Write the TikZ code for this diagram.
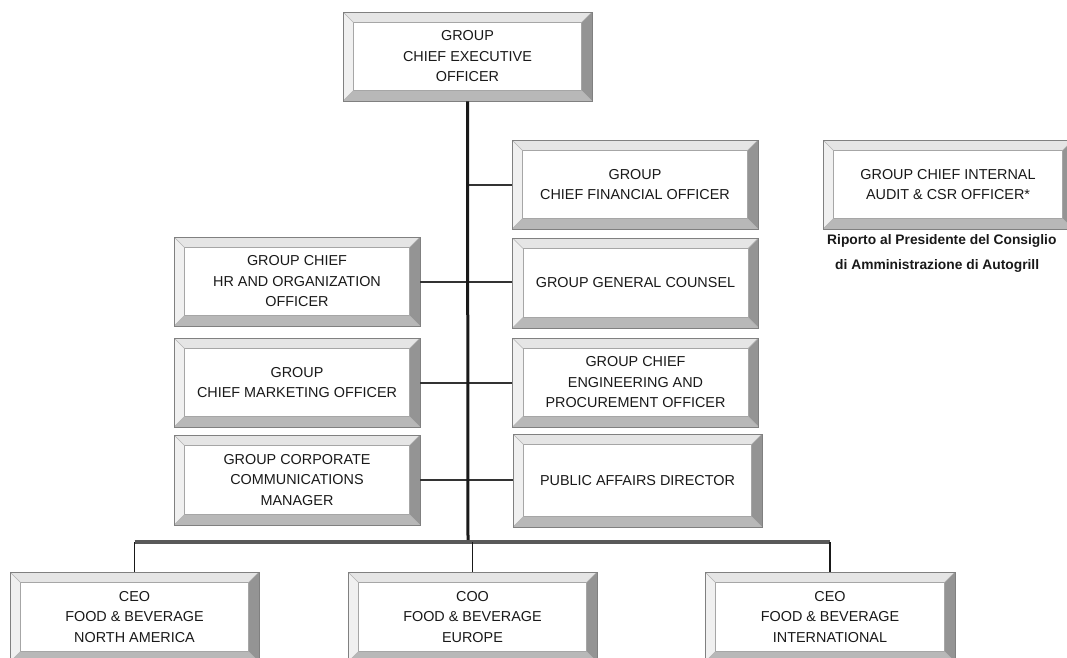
\documentclass[tikz,border=0pt]{standalone}
\usepackage{fontspec}
\setmainfont{Liberation Sans}
\usepackage{tikz}

\newcommand\boxfont{\fontsize{14.4}{20.5}\selectfont}
\newcommand\notefont{\fontsize{13.8}{15}\selectfont\bfseries}
\def\bev{10.5pt}

\tikzset{
  bevel/.style={draw=black!50, line width=.8pt, fill=white, align=center,
    inner sep=0pt, font=\boxfont, text=black!90,
    minimum width=246pt, minimum height=89pt,
    path picture={
      \coordinate (nw) at (path picture bounding box.north west);
      \coordinate (ne) at (path picture bounding box.north east);
      \coordinate (sw) at (path picture bounding box.south west);
      \coordinate (se) at (path picture bounding box.south east);
      \coordinate (inw) at ([shift={(\bev,-\bev)}]nw);
      \coordinate (ine) at ([shift={(-\bev,-\bev)}]ne);
      \coordinate (isw) at ([shift={(\bev,\bev)}]sw);
      \coordinate (ise) at ([shift={(-\bev,\bev)}]se);
      \fill[black!10] (nw) -- (ne) -- (ine) -- (inw) -- cycle;
      \fill[black!6] (nw) -- (inw) -- (isw) -- (sw) -- cycle;
      \fill[black!42] (ne) -- (se) -- (ise) -- (ine) -- cycle;
      \fill[black!28] (sw) -- (isw) -- (ise) -- (se) -- cycle;
      \draw[black!35, line width=.5pt] (inw) rectangle (ise);
      \draw[black!30, line width=.4pt] (nw) -- (inw) (ne) -- (ine) (sw) -- (isw) (se) -- (ise);
    }},
  note/.style={anchor=west, inner sep=0pt, font=\notefont, text=black!90},
  trunk/.style={line width=3pt, black!90},
  branch/.style={line width=2pt, black!80},
  busbar/.style={line width=3.4pt, black!65},
  drop/.style={line width=1.7pt, black!90}
}

\begin{document}
\begin{tikzpicture}[x=1pt, y=-1pt]
  \useasboundingbox (0,0) rectangle (1067,657);
  \clip (0,0) rectangle (1067,657);
  \fill[white] (0,0) rectangle (1067,657);

  % top
  \node [bevel, minimum width=249pt] (ceo) at (467.5,56.5) {GROUP\\CHIEF EXECUTIVE\\OFFICER};

  % staff, right column
  \node [bevel] (cfo) at (635,184.5) {GROUP\\CHIEF FINANCIAL OFFICER};
  \node [bevel, minimum height=90pt] (gc) at (635.5,283) {GROUP GENERAL COUNSEL};
  \node [bevel] (eng) at (635.5,382.5) {GROUP CHIEF\\ENGINEERING AND\\PROCUREMENT OFFICER};
  \node [bevel, minimum width=249pt, minimum height=93pt] (pad) at (637.5,480.5) {PUBLIC AFFAIRS DIRECTOR};

  % staff, left column
  \node [bevel] (hr) at (297,281.5) {GROUP CHIEF\\HR AND ORGANIZATION\\OFFICER};
  \node [bevel] (mkt) at (297,382.5) {GROUP\\CHIEF MARKETING OFFICER};
  \node [bevel, minimum height=90pt] (comm) at (297,480) {GROUP CORPORATE\\COMMUNICATIONS\\MANAGER};

  % audit, off the tree
  \node [bevel, minimum width=250pt] (audit) at (948,184.5) {GROUP CHIEF INTERNAL\\AUDIT \& CSR OFFICER*};
  \node [note] (note1) at (827,241) {Riporto al Presidente del Consiglio};
  \node [note] (note2) at (835,266) {di Amministrazione di Autogrill};

  % operations
  \node [bevel, minimum width=249pt, minimum height=90pt] (na) at (134.5,617) {CEO\\FOOD \& BEVERAGE\\NORTH AMERICA};
  \node [bevel, minimum width=249pt, minimum height=90pt] (eu) at (472.5,617) {COO\\FOOD \& BEVERAGE\\EUROPE};
  \node [bevel, minimum width=250pt, minimum height=90pt] (intl) at (830,617) {CEO\\FOOD \& BEVERAGE\\INTERNATIONAL};

  \coordinate (split) at (468,542);

  \draw [branch] (hr.east) -- (hr.east -| gc.west);
  \draw [branch] (mkt.east) -- (mkt.east -| eng.west);
  \draw [branch] (comm.east) -- (comm.east -| pad.west);
  \draw [branch] (cfo.west -| split) -- (cfo.west);
  \draw [trunk] (ceo.south) -- (split);
  \draw [busbar] (na.north |- split) -- (intl.north |- split);
  \draw [drop] (na.north |- split) -- (na.north);
  \draw [drop] (eu.north |- split) -- (eu.north);
  \draw [drop] (intl.north |- split) -- (intl.north);
\end{tikzpicture}
\end{document}
